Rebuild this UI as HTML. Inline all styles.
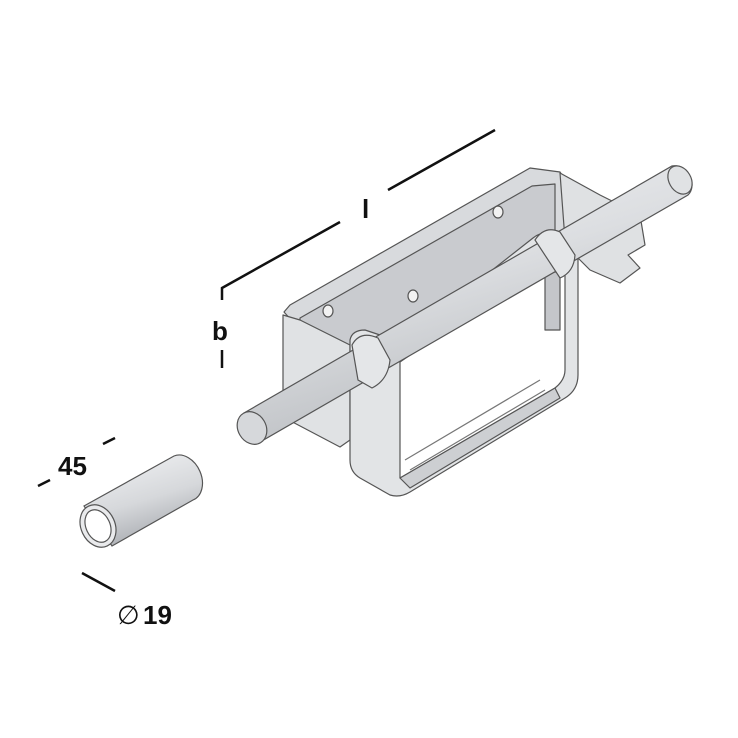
<!DOCTYPE html>
<html><head><style>
html,body{margin:0;padding:0;background:#fff;}
svg{display:block;}
text{font-family:"Liberation Sans",sans-serif;font-weight:bold;fill:#111;}
</style></head><body>
<svg width="738" height="738" viewBox="0 0 738 738" xmlns="http://www.w3.org/2000/svg">
<defs>
<linearGradient id="rod" x1="0" y1="0" x2="0.5" y2="1">
<stop offset="0" stop-color="#f4f5f7"/><stop offset="0.5" stop-color="#dcdee1"/><stop offset="1" stop-color="#b4b7bb"/>
</linearGradient>
<linearGradient id="tube" x1="0" y1="0" x2="0.4" y2="1">
<stop offset="0" stop-color="#f4f5f7"/><stop offset="0.6" stop-color="#d6d8db"/><stop offset="1" stop-color="#abaeb3"/>
</linearGradient>
</defs>

<g stroke="#111" stroke-width="2.5" fill="none">
<line x1="388" y1="190" x2="495" y2="130"/>
<polyline points="222,300 222,288 340,222"/>
<line x1="222" y1="350" x2="222" y2="368"/>
<line x1="38" y1="486" x2="50" y2="480"/>
<line x1="103" y1="444" x2="115" y2="438"/>
<line x1="82" y1="573" x2="115" y2="591"/>
</g>
<text x="362" y="218" font-size="26">l</text>
<text x="212" y="340" font-size="26">b</text>
<text x="58" y="475" font-size="26">45</text>
<text x="117" y="624" font-size="26" style="font-weight:normal">∅</text>
<text x="143" y="624" font-size="26">19</text>

<g stroke="#555" stroke-width="1.2">
<path d="M84,506 L174,456 A17,23 -25 0 1 193,500 L112,546 Z" fill="url(#tube)"/>
<ellipse cx="98" cy="526" rx="17" ry="22" transform="rotate(-25 98 526)" fill="#e9eaec"/>
<ellipse cx="98" cy="526" rx="12" ry="17" transform="rotate(-25 98 526)" fill="#fff"/>
</g>

<g stroke="#555" stroke-width="1.2" stroke-linejoin="round">
<path d="M284,312 L290,305 L530,168 L560,172 L565,180 L565,240 L300,390 L300,330 Z" fill="#d8dadd"/>
<path d="M300,318 L532,186 L555,184 L555,240 L300,385 Z" fill="#c9cbcf"/>
<path d="M283,315 L300,320 L350,345 L350,440 L340,447 L283,417 Z" fill="#e0e2e4"/>
<path d="M560,173 L600,195 L640,215 L645,245 L628,255 L640,268 L620,283 L590,270 L575,255 L565,240 Z" fill="#dfe1e3"/>
<ellipse cx="328" cy="311" rx="5" ry="6" fill="#f2f2f2"/>
<ellipse cx="413" cy="296" rx="5" ry="6" fill="#f2f2f2"/>
<ellipse cx="498" cy="212" rx="5" ry="6" fill="#f2f2f2"/>
</g>

<g stroke="#555" stroke-width="1.2" stroke-linejoin="round">
<path fill-rule="evenodd" fill="#e2e4e6" d="M350,340 Q352,330 365,330 L380,335 L397,355 L397,345 L533,238 Q540,232 550,233 L570,243 L578,255 L578,375 Q578,390 565,398 L410,492 Q400,498 390,495 L360,478 Q350,472 350,460 Z
M400,362 L400,478 L555,388 Q565,380 565,370 L565,265 L545,262 Z"/>
<path d="M400,478 L410,488 L560,398 L555,388 Z" fill="#cdcfd2"/>
<path d="M410,470 L545,390 M405,460 L540,380" stroke="#777" fill="none"/>
<path d="M545,272 L560,272 L560,330 L545,330 Z" fill="#c4c6ca"/>
</g>

<g stroke="#555" stroke-width="1.2">
<path d="M244,413 L672,166 A14,17 -30 0 1 688,195 L260,442 Z" fill="url(#rod)"/>
<ellipse cx="252" cy="428" rx="14" ry="17" transform="rotate(-30 252 428)" fill="#d6d8db"/>
<ellipse cx="680" cy="180" rx="11" ry="15" transform="rotate(-30 680 180)" fill="#e0e2e4"/>
<path d="M352,345 Q360,330 378,338 L390,360 Q388,380 372,388 L358,380 Z" fill="#e4e6e8"/>
<path d="M535,240 Q545,225 560,232 L575,255 Q574,272 560,278 Z" fill="#e4e6e8"/>
</g>
</svg>
</body></html>
